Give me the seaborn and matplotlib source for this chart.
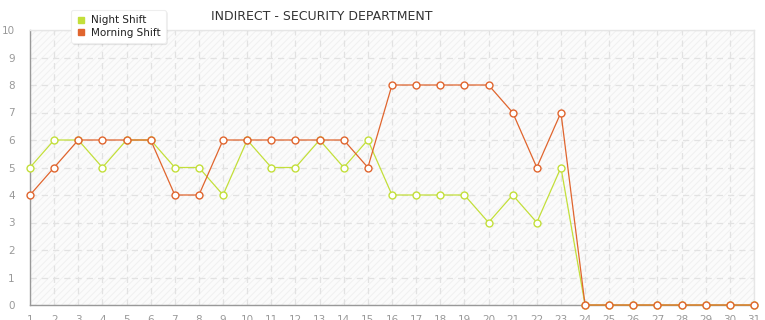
import matplotlib
matplotlib.use("Agg")
import matplotlib.pyplot as plt
import seaborn as sns
import pandas as pd
from matplotlib.patches import Rectangle
from matplotlib.lines import Line2D

days = list(range(1, 32))
night_shift = [5, 6, 6, 5, 6, 6, 5, 5, 4, 6, 5, 5, 6, 5, 6, 4, 4, 4, 4, 3, 4, 3, 5,
               0, 0, 0, 0, 0, 0, 0, 0]
morning_shift = [4, 5, 6, 6, 6, 6, 4, 4, 6, 6, 6, 6, 6, 6, 5, 8, 8, 8, 8, 8, 7, 5, 7,
                 0, 0, 0, 0, 0, 0, 0, 0]
series_names = ["Night Shift", "Morning Shift"]
title = "INDIRECT - SECURITY DEPARTMENT"

df = pd.DataFrame({
    "day": days * 2,
    "value": night_shift + morning_shift,
    "series": [series_names[0]] * len(days) + [series_names[1]] * len(days),
})

sns.set_theme(style="white")
plt.rcParams["font.family"] = ["DejaVu Sans"]
plt.rcParams["hatch.color"] = "#ececec"
plt.rcParams["hatch.linewidth"] = 0.6

colors = {"Night Shift": "#c3df3a", "Morning Shift": "#e0652e"}

fig = plt.figure(figsize=(7.65, 3.2), dpi=100)
ax = fig.add_axes([30 / 765, 15 / 320, 724 / 765, 275 / 320])
ax.set_facecolor("#fbfbfb")
ax.add_patch(Rectangle((0, 0), 1, 1, transform=ax.transAxes, facecolor="none",
                       edgecolor="#efefef", hatch="/////", linewidth=0, zorder=0))

for name in series_names:
    sub = df[df["series"] == name]
    sns.lineplot(data=sub, x="day", y="value", ax=ax, color=colors[name],
                 linewidth=0.9, marker="o", markersize=5, markerfacecolor="white",
                 markeredgecolor=colors[name], markeredgewidth=1.0,
                 clip_on=False, zorder=3, legend=False)

ax.set_xlim(1, 31)
ax.set_ylim(0, 10)
ax.set_xticks(days)
ax.set_yticks(range(0, 11))
ax.grid(True, color="#e2e2e2", linestyle=(0, (5, 4)), linewidth=0.9)
ax.set_axisbelow(True)
ax.set_xlabel("")
ax.set_ylabel("")
ax.tick_params(axis="both", colors="#999999", labelsize=7.5, length=4, width=0.8,
               direction="out")
ax.tick_params(axis="y", pad=8, length=3)
ax.tick_params(axis="x", pad=3)
for s in ["left", "bottom"]:
    ax.spines[s].set_color("#999999")
    ax.spines[s].set_linewidth(1)
for s in ["top", "right"]:
    ax.spines[s].set_color("#e6e6e6")
    ax.spines[s].set_linewidth(1)

# Legend
handles = [Line2D([], [], linestyle="none", marker="s", markersize=4.5,
                  color=colors[n]) for n in series_names]
leg = fig.legend(handles, series_names, loc="upper left",
                 bbox_to_anchor=(66 / 765, 1 - 5 / 320), frameon=True,
                 fontsize=7.5, handlelength=0.8, handletextpad=0.6,
                 labelspacing=0.25, borderpad=0.5, fancybox=True,
                 shadow={"color": "#000000", "alpha": 0.06, "ox": 1, "oy": -1})
leg.get_frame().set_edgecolor("#eeeeee")
leg.get_frame().set_facecolor("white")
leg.get_frame().set_linewidth(0.8)
for t in leg.get_texts():
    t.set_color("#222222")

fig.text(322 / 765, 1 - 17 / 320, title, ha="center", va="center",
         fontsize=9, color="#333333")

fig.savefig("out.png", dpi=100)
